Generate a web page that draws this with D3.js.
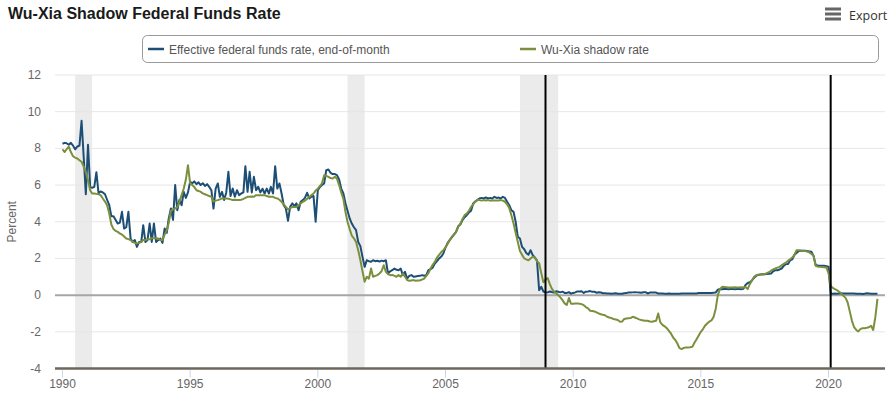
<!DOCTYPE html>
<html>
<head>
<meta charset="utf-8">
<script src="https://cdn.jsdelivr.net/npm/d3@7"></script>
<style>
  body { margin: 0; background: #fff; }
  svg text { font-family: "Liberation Sans", Arial, sans-serif; }
</style>
</head>
<body>
<div id="chart-container"></div>
<script>
// Monthly values, Jan 1990 to Dec 2021, one row per year
let startYear = 1990;

let effr = [
  8.25, 8.3, 8.28, 8.2, 8.3, 8.15, 7.95, 8.1, 8.15, 9.5, 7.5, 5.5,
  8.2, 5.9, 5.85, 5.9, 6.7, 5.55, 5.65, 5.6, 5.5, 5.2, 4.9, 4.3,
  4.3, 4.1, 3.9, 3.95, 4.54, 3.63, 3.7, 4.54, 3.09, 2.9, 3.0, 2.63,
  2.9, 2.9, 3.81, 2.9, 3.0, 3.9, 2.9, 3.9, 2.9, 3.0, 3.09, 2.85,
  3.63, 3.4, 4.18, 4.72, 4.1, 6.0, 4.63, 5.2, 4.9, 5.63, 5.3, 5.6,
  6.18, 6.1, 6.2, 6.05, 6.15, 6.0, 6.1, 5.95, 6.05, 5.9, 5.72, 4.72,
  5.81, 6.09, 5.36, 5.63, 5.18, 5.6, 6.72, 5.4, 5.81, 5.36, 5.72, 5.45,
  5.54, 5.6, 7.03, 5.63, 6.72, 5.6, 6.45, 5.72, 5.9, 5.6, 5.8, 5.54,
  5.81, 5.54, 5.9, 5.54, 7.03, 5.81, 6.09, 5.54, 4.9, 4.72, 4.05, 4.81,
  5.0, 4.85, 5.0, 4.63, 5.09, 5.18, 5.3, 5.58, 5.27, 5.36, 5.4, 4.0,
  5.72, 5.9, 6.0, 6.09, 6.81, 6.85, 6.67, 6.6, 6.6, 6.54, 6.3, 5.81,
  5.54, 5.0, 4.6, 4.18, 3.9, 3.7, 3.54, 2.9, 2.67, 2.09, 1.54, 1.9,
  1.85, 1.82, 1.9, 1.85, 1.87, 1.83, 1.88, 1.85, 1.9, 1.18, 1.3, 1.36,
  1.45, 1.38, 1.36, 1.45, 1.09, 1.27, 0.9, 1.05, 1.09, 1.0, 1.02, 1.04,
  1.05, 1.09, 1.06, 1.09, 1.36, 1.42, 1.5, 1.72, 1.85, 2.0, 2.1, 2.27,
  2.6, 2.85, 3.0, 3.15, 3.3, 3.45, 3.75, 3.85, 4.09, 4.25, 4.36, 4.5,
  4.6, 5.0, 5.1, 5.18, 5.27, 5.3, 5.27, 5.32, 5.27, 5.3, 5.27, 5.36,
  5.3, 5.32, 5.27, 5.36, 5.3, 5.09, 4.9, 4.63, 4.54, 4.0, 3.18, 3.09,
  2.63, 2.5, 2.3, 2.2, 2.45, 2.18, 2.05, 1.9, 0.27, 0.45, 0.2, 0.16,
  0.15, 0.2, 0.17, 0.14, 0.21, 0.18, 0.15, 0.19, 0.12, 0.12, 0.16, 0.08,
  0.12, 0.15, 0.2, 0.2, 0.21, 0.12, 0.19, 0.2, 0.22, 0.18, 0.19, 0.13,
  0.16, 0.14, 0.1, 0.1, 0.09, 0.09, 0.07, 0.09, 0.1, 0.07, 0.08, 0.07,
  0.1, 0.11, 0.14, 0.14, 0.15, 0.16, 0.15, 0.14, 0.13, 0.16, 0.16, 0.09,
  0.14, 0.15, 0.14, 0.14, 0.09, 0.09, 0.09, 0.08, 0.08, 0.09, 0.08, 0.07,
  0.07, 0.07, 0.08, 0.09, 0.09, 0.09, 0.09, 0.09, 0.09, 0.09, 0.09, 0.12,
  0.11, 0.11, 0.11, 0.12, 0.12, 0.12, 0.13, 0.14, 0.3, 0.33, 0.32, 0.33,
  0.33, 0.32, 0.33, 0.33, 0.32, 0.33, 0.33, 0.32, 0.34, 0.55, 0.66, 0.7,
  0.8, 0.95, 1.05, 1.1, 1.12, 1.14, 1.14, 1.15, 1.16, 1.18, 1.3, 1.36,
  1.36, 1.4, 1.45, 1.6, 1.69, 1.7, 1.9, 1.95, 2.2, 2.3, 2.4, 2.42,
  2.42, 2.42, 2.4, 2.38, 2.36, 2.14, 1.65, 1.62, 1.6, 1.6, 1.6, 1.58,
  1.55, 0.06, 0.08, 0.09, 0.08, 0.09, 0.1, 0.09, 0.09, 0.09, 0.09, 0.09,
  0.09, 0.08, 0.07, 0.07, 0.06, 0.08, 0.1, 0.09, 0.08, 0.08, 0.08, 0.07
];

let shadow = [
  7.94, 7.8, 7.95, 8.09, 7.8, 7.57, 7.5, 7.45, 7.35, 7.27, 7.0, 6.7,
  6.27, 5.72, 5.54, 5.54, 5.52, 5.5, 5.45, 5.27, 5.1, 4.9, 4.45, 3.85,
  3.6, 3.5, 3.45, 3.36, 3.3, 3.2, 3.09, 3.05, 3.0, 2.9, 2.85, 2.81,
  2.85, 2.9, 3.0, 3.0, 3.05, 3.05, 3.1, 3.1, 3.1, 3.09, 3.0, 3.0,
  3.3, 3.54, 3.95, 4.6, 4.68, 4.72, 4.8, 5.1, 5.45, 5.8, 6.3, 7.08,
  6.09, 6.0, 5.9, 5.72, 5.68, 5.63, 5.55, 5.5, 5.45, 5.4, 5.36, 5.1,
  5.15, 5.18, 5.22, 5.27, 5.27, 5.27, 5.25, 5.22, 5.18, 5.2, 5.18, 5.18,
  5.2, 5.25, 5.3, 5.36, 5.36, 5.38, 5.36, 5.45, 5.45, 5.45, 5.45, 5.45,
  5.4, 5.36, 5.36, 5.36, 5.3, 5.27, 5.2, 5.09, 4.95, 4.81, 4.67, 4.75,
  4.8, 4.8, 4.81, 4.9, 5.0, 5.09, 5.15, 5.25, 5.35, 5.45, 5.54, 5.7,
  5.8, 5.95, 6.1, 6.54, 6.5, 6.45, 6.38, 6.36, 6.45, 6.35, 6.0, 5.6,
  5.25, 4.5, 4.0, 3.6, 3.25, 3.1, 2.9, 2.45, 1.9, 1.3, 0.73, 1.0,
  0.9, 1.45, 1.0, 1.05, 1.09, 1.18, 1.3, 1.63, 1.27, 1.15, 1.09, 1.1,
  1.05, 1.0, 1.09, 1.0, 1.18, 1.0, 0.82, 0.78, 0.8, 0.82, 0.78, 0.8,
  0.8, 0.85, 0.9, 1.05, 1.2, 1.45, 1.65, 1.81, 2.05, 2.2, 2.35, 2.45,
  2.6, 2.8, 3.0, 3.18, 3.3, 3.45, 3.72, 3.9, 4.15, 4.36, 4.45, 4.6,
  4.81, 4.95, 5.09, 5.2, 5.18, 5.15, 5.18, 5.16, 5.18, 5.15, 5.17, 5.16,
  5.16, 5.16, 5.18, 5.15, 5.09, 4.95, 4.75, 4.35, 3.9, 3.4, 2.9, 2.4,
  2.2, 2.0, 1.95, 1.9, 2.0, 2.09, 2.05, 1.85, 1.74, 1.2, 0.7, 0.85,
  0.93, 0.6, 0.35, 0.2, 0.1, 0.0, -0.12, -0.27, -0.45, -0.54, -0.16, -0.47,
  -0.47, -0.46, -0.45, -0.47, -0.49, -0.55, -0.65, -0.72, -0.85, -0.87, -0.89, -0.94,
  -1.0, -1.04, -1.07, -1.1, -1.18, -1.22, -1.25, -1.3, -1.33, -1.36, -1.45, -1.44,
  -1.3, -1.27, -1.26, -1.25, -1.18, -1.22, -1.27, -1.32, -1.36, -1.38, -1.4, -1.4,
  -1.44, -1.45, -1.42, -1.4, -1.0, -1.49, -1.62, -1.7, -1.8, -1.95, -2.1, -2.31,
  -2.45, -2.65, -2.89, -2.94, -2.88, -2.85, -2.85, -2.84, -2.82, -2.6, -2.4, -2.2,
  -2.0, -1.85, -1.67, -1.55, -1.45, -1.38, -1.2, -0.75, 0.0, 0.33, 0.45, 0.44,
  0.43, 0.42, 0.42, 0.42, 0.43, 0.42, 0.42, 0.43, 0.42, 0.44, 0.33, 0.6,
  0.8, 1.0, 1.08, 1.11, 1.12, 1.13, 1.14, 1.2, 1.25, 1.33, 1.4, 1.45,
  1.5, 1.54, 1.62, 1.7, 1.78, 1.87, 1.96, 2.05, 2.2, 2.45, 2.45, 2.43,
  2.42, 2.4, 2.38, 2.33, 2.25, 2.14, 1.6, 1.55, 1.54, 1.53, 1.52, 1.51,
  1.2, 0.5, 0.4, 0.33, 0.27, 0.18, 0.1, -0.04, -0.15, -0.4, -0.9, -1.4,
  -1.75, -1.9, -1.98, -1.85, -1.8, -1.8, -1.78, -1.75, -1.67, -1.9, -1.2, -0.2
];

let seriesNames = ["Effective federal funds rate, end-of-month", "Wu-Xia shadow rate"];
let seriesColors = ["#1d4e75", "#7b8f3d"];

// NBER recessions (start, end) and the two zero-lower-bound markers
let recessions = [["1990-07", "1991-03"], ["2001-03", "2001-11"], ["2007-12", "2009-06"]];
let zlbLines = ["2008-12", "2020-02"];

let yTicks = [-4, -2, 0, 2, 4, 6, 8, 10, 12];
let xTicks = [1990, 1995, 2000, 2005, 2010, 2015, 2020];

let width = 893,
    height = 393,
    plot = {left: 55, right: 885, top: 75, bottom: 368.5};

let parseMonth = d3.timeParse("%Y-%m");

let x = d3.scaleTime()
    .domain([new Date(1989, 8, 16), new Date(2022, 2, 19)])
    .range([plot.left, plot.right]);

let y = d3.scaleLinear()
    .domain([-4, 12])
    .range([plot.bottom, plot.top]);

let svg = d3.select("#chart-container")
    .append("svg")
    .attr("width", width)
    .attr("height", height);

function toSeries(values) {
  return values.map(function(v, i) {
    return {date: new Date(startYear, i, 1), value: v};
  });
}

function render() {
  // Title and export button
  svg.append("text")
      .attr("x", 8)
      .attr("y", 19)
      .style("font-size", "16px")
      .style("font-weight", "bold")
      .attr("fill", "#1a1a1a")
      .text("Wu-Xia Shadow Federal Funds Rate");

  let menu = svg.append("g");
  [9, 14, 19].forEach(function(yy) {
    menu.append("rect")
        .attr("x", 825).attr("y", yy - 1.5)
        .attr("width", 16).attr("height", 3)
        .attr("fill", "#666");
  });
  menu.append("text")
      .attr("x", 849)
      .attr("y", 19.5)
      .style("font-family", "'Open Sans', sans-serif")
      .style("font-size", "12.5px")
      .attr("fill", "#333")
      .text("Export");

  // Legend box
  let legend = svg.append("g");
  legend.append("rect")
      .attr("x", 142.5).attr("y", 35.5)
      .attr("width", 736).attr("height", 27)
      .attr("rx", 5)
      .attr("fill", "none")
      .attr("stroke", "#999");
  let legendX = [148, 520];
  seriesNames.forEach(function(name, i) {
    legend.append("line")
        .attr("x1", legendX[i]).attr("x2", legendX[i] + 16)
        .attr("y1", 49).attr("y2", 49)
        .attr("stroke", seriesColors[i])
        .attr("stroke-width", 2.5);
    legend.append("text")
        .attr("x", legendX[i] + 21)
        .attr("y", 53.5)
        .style("font-size", "12px")
        .attr("fill", "#555")
        .text(name);
  });

  // Recession shading
  svg.selectAll("rect.recession")
      .data(recessions)
      .enter()
      .append("rect")
      .attr("class", "recession")
      .attr("x", function(d) { return x(parseMonth(d[0])); })
      .attr("width", function(d) { return x(parseMonth(d[1])) - x(parseMonth(d[0])); })
      .attr("y", plot.top)
      .attr("height", plot.bottom - plot.top)
      .attr("fill", "#ebebeb");

  // Grid lines
  svg.selectAll("line.grid")
      .data(yTicks.filter(function(t) { return t !== 0 && t !== -4; }))
      .enter()
      .append("line")
      .attr("class", "grid")
      .attr("x1", plot.left).attr("x2", plot.right)
      .attr("y1", function(d) { return y(d); })
      .attr("y2", function(d) { return y(d); })
      .attr("stroke", "#e6e6e6");

  svg.append("line")
      .attr("x1", plot.left).attr("x2", plot.right)
      .attr("y1", y(0)).attr("y2", y(0))
      .attr("stroke", "#a6a6a6")
      .attr("stroke-width", 2);

  // Y axis labels
  svg.selectAll("text.ytick")
      .data(yTicks)
      .enter()
      .append("text")
      .attr("class", "ytick")
      .attr("x", 41)
      .attr("y", function(d) { return y(d) + 4; })
      .attr("text-anchor", "end")
      .style("font-size", "12px")
      .attr("fill", "#666")
      .text(function(d) { return d; });

  svg.append("text")
      .attr("text-anchor", "middle")
      .attr("transform", "translate(16," + ((plot.top + plot.bottom) / 2) + ")rotate(-90)")
      .style("font-size", "12px")
      .attr("fill", "#666")
      .text("Percent");

  // Series lines
  svg.append("clipPath")
      .attr("id", "plot-clip")
      .append("rect")
      .attr("x", plot.left).attr("y", plot.top - 5)
      .attr("width", plot.right - plot.left)
      .attr("height", plot.bottom - plot.top + 5);

  let line = d3.line()
      .x(function(d) { return x(d.date); })
      .y(function(d) { return y(d.value); });

  [effr, shadow].forEach(function(values, i) {
    svg.append("path")
        .datum(toSeries(values))
        .attr("clip-path", "url(#plot-clip)")
        .attr("fill", "none")
        .attr("stroke", seriesColors[i])
        .attr("stroke-width", 2)
        .attr("stroke-linejoin", "round")
        .attr("d", line);
  });

  // Zero lower bound markers
  svg.selectAll("line.zlb")
      .data(zlbLines)
      .enter()
      .append("line")
      .attr("class", "zlb")
      .attr("x1", function(d) { return x(parseMonth(d)); })
      .attr("x2", function(d) { return x(parseMonth(d)); })
      .attr("y1", plot.top)
      .attr("y2", plot.bottom)
      .attr("stroke", "#000")
      .attr("stroke-width", 2);

  // X axis
  svg.append("line")
      .attr("x1", plot.left).attr("x2", plot.right)
      .attr("y1", plot.bottom).attr("y2", plot.bottom)
      .attr("stroke", "#6d675c")
      .attr("stroke-width", 2.5);

  let xt = svg.selectAll("g.xtick")
      .data(xTicks)
      .enter()
      .append("g")
      .attr("class", "xtick")
      .attr("transform", function(d) { return "translate(" + x(new Date(d, 0, 1)) + ",0)"; });
  xt.append("line")
      .attr("y1", plot.bottom + 1.5).attr("y2", plot.bottom + 9)
      .attr("stroke", "#ccd6eb");
  xt.append("text")
      .attr("y", 388)
      .attr("text-anchor", "middle")
      .style("font-size", "12px")
      .attr("fill", "#666")
      .text(function(d) { return d; });
}

render();
</script>
</body>
</html>
